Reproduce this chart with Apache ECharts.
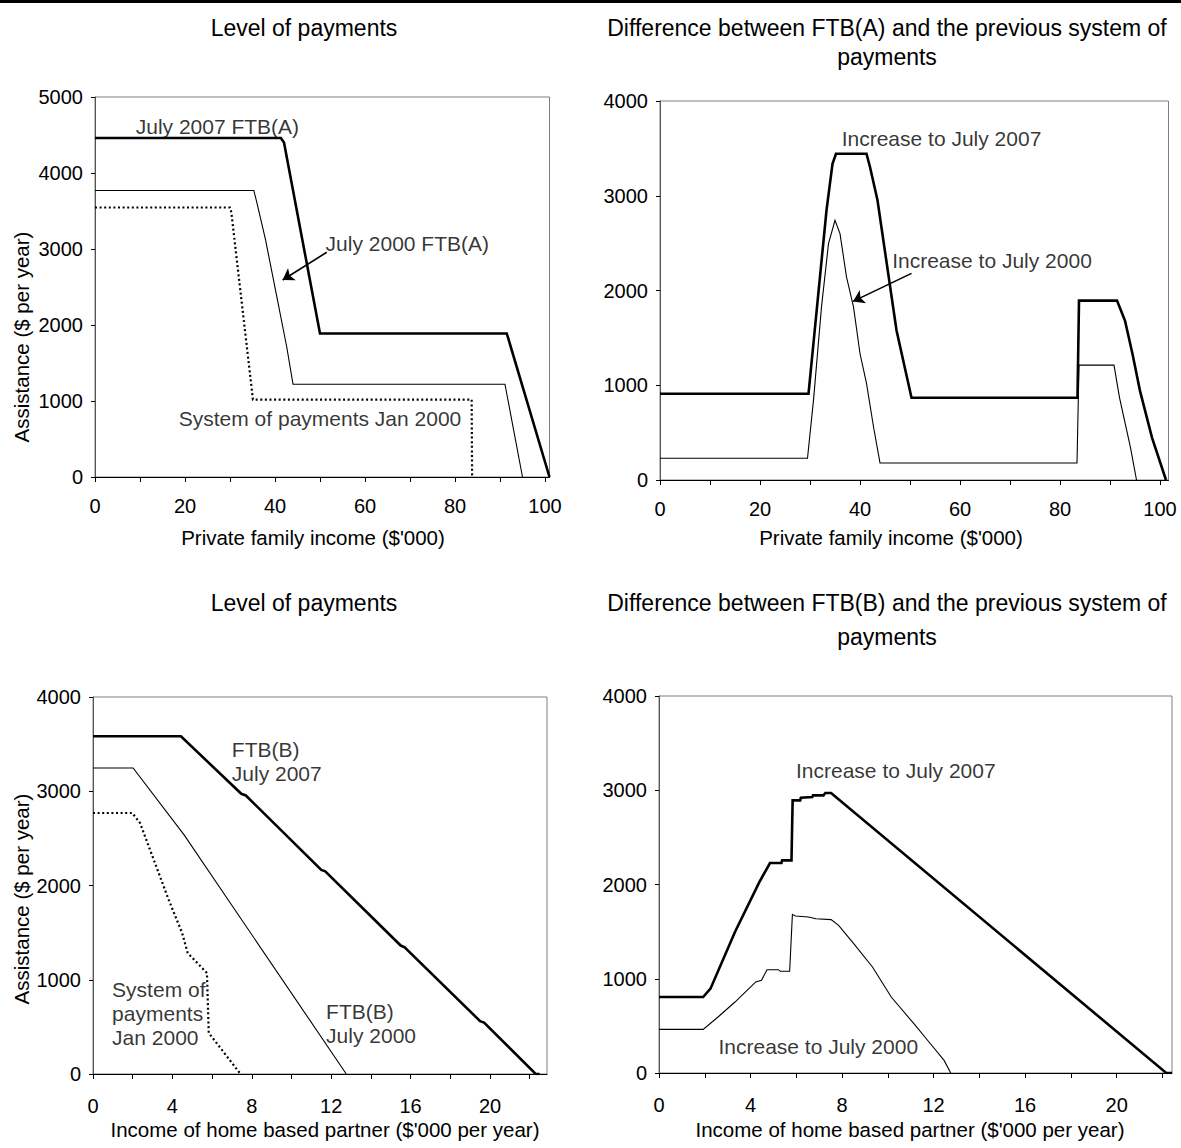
<!DOCTYPE html>
<html>
<head>
<meta charset="utf-8">
<script src="https://cdn.jsdelivr.net/npm/echarts@6/dist/echarts.min.js"></script>
<style>
html,body{margin:0;padding:0;background:#fff;}
#c{width:1181px;height:1148px;}
</style>
</head>
<body>
<div id="c"></div>
<script>
// ---------- DATA ----------
// Top-left: Level of payments (FTB(A)), x = private family income ($'000)
const ftbA2007 = [[0,4460],[41.3,4460],[42,4400],[50,1889],[91.5,1889],[92,1790],[101,0]];
const ftbA2000 = [[0,3770],[35.3,3770],[36,3603],[37.9,3120],[40.4,2373],[42.6,1714],[44,1221],[91.1,1221],[95,0]];
const sysJan2000A = [[0,3546],[30,3546],[30.3,3480],[35.1,1019],[83.7,1019],[83.8,0]];

// Top-right: Difference between FTB(A) and previous system
const incA2007 = [[0,910],[29.7,910],[33.3,2846],[34.5,3338],[35.2,3443],[41.3,3443],[42,3303],[43.5,2952],[47.3,1581],[50.3,868],[83.5,868],[83.8,1893],[91.4,1893],[93.0,1681],[94.5,1329],[96.0,941],[98.4,448],[101.2,0]];
const incA2000 = [[0,230],[29.5,230],[30.7,843],[32.3,1827],[33.7,2495],[35.0,2741],[36.0,2600],[37.3,2143],[38.7,1827],[40.0,1335],[41.3,1019],[42.7,562],[44.0,180],[83.4,180],[83.8,1212],[90.8,1212],[91.9,870],[94.1,342],[95.3,0]];

// Bottom-left: Level of payments (FTB(B)), x = income of home based partner
const ftbB2007 = [[0,3583],[4.43,3583],[7.47,2973],[7.7,2955],[11.5,2165],[11.7,2150],[15.5,1363],[15.7,1345],[19.5,561],[19.7,545],[22.3,0],[22.5,0]];
const ftbB2000 = [[0,3247],[2.02,3247],[4.58,2540],[12.76,0]];
const sysJan2000B = [[0,2769],[1.98,2769],[2.37,2663],[3.81,1850],[4.49,1496],[4.77,1284],[5.74,1072],[5.83,435],[6.03,382],[7.43,0]];

// Bottom-right: Difference between FTB(B) and previous system
const incB2007 = [[0,806],[1.93,806],[2.25,895],[3.32,1496],[4.39,2027],[4.85,2228],[5.35,2228],[5.38,2256],[5.79,2256],[5.84,2893],[6.17,2893],[6.2,2921],[6.7,2928],[6.73,2946],[7.19,2946],[7.27,2971],[7.52,2971],[22.17,0],[22.42,0]];
const incB2000 = [[0,463],[1.93,463],[2.58,594],[3.32,753],[4.23,966],[4.48,983],[4.72,1096],[5.22,1096],[5.3,1079],[5.71,1079],[5.83,1683],[5.96,1666],[6.53,1655],[6.86,1637],[7.52,1627],[7.85,1567],[8.51,1372],[9.33,1125],[10.15,806],[11.14,523],[11.8,329],[12.46,134],[12.75,0]];

// Axis ticks / labels
const xTicksTop = [0,10,20,30,40,50,60,70,80,90,100];
const xLabelsTop = [0,20,40,60,80,100];
const xTicksBottom = [0,2,4,6,8,10,12,14,16,18,20,22];
const xLabelsBottom = [0,4,8,12,16,20];

// Annotations (anchor in data units)
const notesA = [[27.2,4613,'July 2007 FTB(A)'],[69.4,3076,'July 2000 FTB(A)'],[50.0,769,'System of payments Jan 2000']];
const notesB = [[56.3,3602,'Increase to July 2007'],[66.4,2315,'Increase to July 2000']];
const notesC = [[6.99,3317,'FTB(B)\nJuly 2007'],[11.74,534,'FTB(B)\nJuly 2000'],[0.96,640,'System of\npayments\nJan 2000']];
const notesD = [[10.35,3211,'Increase to July 2007'],[6.96,276,'Increase to July 2000']];
const arrowA = [[51.5,2957],[41.7,2592]];
const arrowB = [[50.3,2181],[38.6,1885]];

const titles = ['Level of payments','Difference between FTB(A) and the previous system of','payments','Level of payments','Difference between FTB(B) and the previous system of','payments'];
const xTitleTop = "Private family income ($'000)";
const xTitleBottom = "Income of home based partner ($'000 per year)";
const yTitle = 'Assistance ($ per year)';

// ---------- CHART ----------
const FONT = '"Liberation Sans", Arial, sans-serif';
const chart = echarts.init(document.getElementById('c'), null, {renderer:'svg'});

const grids = [
  {left:95, top:97, width:454.5, height:380},
  {left:660, top:101, width:508.5, height:379},
  {left:93, top:697, width:454, height:377},
  {left:659, top:696, width:513, height:377}
].map(g => Object.assign({show:true, borderColor:'#7f7f7f', borderWidth:1, containLabel:false, outerBoundsMode:'none'}, g));

function xAx(gi, max, ticks, labels, margin) {
  return {type:'value', gridIndex:gi, min:0, max:max,
    axisLine:{show:true, onZero:false, lineStyle:{color:'#000', width:1}},
    axisTick:{show:true, inside:false, length:5, customValues:ticks, lineStyle:{color:'#000', width:1}},
    axisLabel:{show:true, customValues:labels, color:'#000', fontSize:20, fontFamily:FONT, margin:margin, formatter:v=>String(v)},
    splitLine:{show:false}};
}
function yAx(gi, max) {
  return {type:'value', gridIndex:gi, min:0, max:max, interval:1000,
    axisLine:{show:true, onZero:false, lineStyle:{color:'#555', width:1}},
    axisTick:{show:true, inside:false, length:4, lineStyle:{color:'#000', width:1}},
    axisLabel:{show:true, color:'#000', fontSize:20, fontFamily:FONT, margin:12, formatter:v=>String(v)},
    splitLine:{show:false}};
}

function line(gi, data, width, type) {
  return {type:'line', xAxisIndex:gi, yAxisIndex:gi, data:data, showSymbol:false, symbol:'none', silent:true,
    lineStyle:{color:'#000', width:width, type:type||'solid', cap:'butt', join:'miter'}, z:3};
}
function notes(gi, arr, pos) {
  return {type:'scatter', xAxisIndex:gi, yAxisIndex:gi, symbolSize:0.1, silent:true,
    itemStyle:{color:'transparent'},
    data:arr.map(a=>({value:[a[0],a[1]], name:a[2]})),
    label:{show:true, formatter:'{b}', position:pos||'inside', distance:0, color:'#000', fontSize:21, fontFamily:FONT, lineHeight:24, align:pos==='right'?'left':'center'}, z:5};
}
function arrow(gi, pts) {
  return {type:'line', xAxisIndex:gi, yAxisIndex:gi, data:[], silent:true,
    markLine:{silent:true, symbol:['none','arrow'], symbolSize:11, animation:false,
      lineStyle:{color:'#000', width:1.6, type:'solid'}, label:{show:false},
      data:[[{coord:pts[0]},{coord:pts[1]}]]}};
}

function txt(x, y, s, size, rot) {
  return {type:'text', x:x, y:y, rotation:rot||0,
    style:{text:s, font:size + 'px ' + FONT, fill:'#000', align:'center', verticalAlign:'middle', textAlign:'center', textVerticalAlign:'middle'}};
}

chart.setOption({
  animation:false,
  backgroundColor:'#fff',
  grid:grids,
  xAxis:[xAx(0,101,xTicksTop,xLabelsTop,19), xAx(1,101.7,xTicksTop,xLabelsTop,19), xAx(2,22.87,xTicksBottom,xLabelsBottom,22), xAx(3,22.42,xTicksBottom,xLabelsBottom,22)],
  yAxis:[yAx(0,5000), yAx(1,4000), yAx(2,4000), yAx(3,4000)],
  series:[
    line(0, sysJan2000A, 2.2, [2,2.6]),
    line(0, ftbA2000, 1.1),
    line(0, ftbA2007, 2.6),
    line(1, incA2000, 1.1),
    line(1, incA2007, 2.6),
    line(2, sysJan2000B, 2.2, [2,2.6]),
    line(2, ftbB2000, 1.1),
    line(2, ftbB2007, 2.6),
    line(3, incB2000, 1.1),
    line(3, incB2007, 2.6),
    notes(0, notesA), notes(1, notesB), notes(2, notesC, 'right'), notes(3, notesD),
    arrow(0, arrowA), arrow(1, arrowB)
  ],
  graphic:[
    {type:'rect', shape:{x:0, y:0, width:1181, height:3}, style:{fill:'#000'}},
    txt(304, 28, titles[0], 23),
    txt(887, 28, titles[1], 23),
    txt(887, 57, titles[2], 23),
    txt(304, 603, titles[3], 23),
    txt(887, 603, titles[4], 23),
    txt(887, 637, titles[5], 23),
    txt(313, 537, xTitleTop, 20.5),
    txt(891, 537, xTitleTop, 20.5),
    txt(325, 1129, xTitleBottom, 20.5),
    txt(910, 1129, xTitleBottom, 20.5),
    txt(21, 337, yTitle, 20.5, Math.PI/2),
    txt(21, 899, yTitle, 20.5, Math.PI/2)
  ]
});
</script>
</body>
</html>
